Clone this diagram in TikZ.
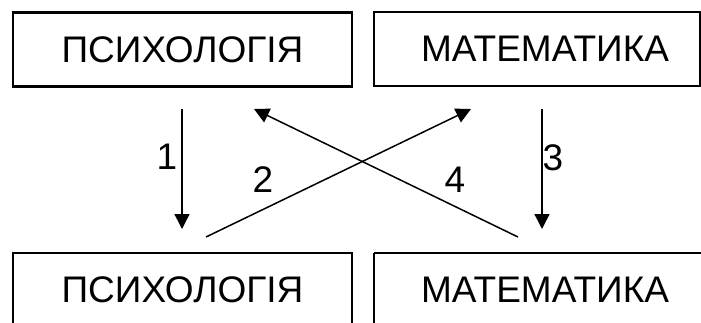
\documentclass[tikz,border=0pt]{standalone}
\usepackage{fontspec}
\setmainfont{Liberation Sans}
\usetikzlibrary{arrows.meta}
\begin{document}
\begin{tikzpicture}[x=1pt,y=-1pt,
  box/.style={draw,line width=1.4pt,minimum height=74pt,inner sep=0pt,font=\fontsize{37}{41}\selectfont},
  thickbox/.style={box,line width=2.8pt},
  txt/.style={inner sep=0pt,font=\fontsize{37}{41}\selectfont},
  arr/.style={line width=1.5pt,-{Triangle[length=15pt,width=15pt]}},
  num/.style={font=\fontsize{37}{41}\selectfont,inner sep=0pt}]
\useasboundingbox (0,0) rectangle (701,322);
\clip (0,0) rectangle (701,322);
\fill[white] (0,0) rectangle (701,322);
\node[thickbox,minimum width=339pt] (p1) at (182.5,49.5) {ПСИХОЛОГІЯ};
\node[box,minimum width=326pt] (m1) at (537,49) {\hspace*{16pt}МАТЕМАТИКА};
\node[box,minimum width=339pt] (p2) at (182.5,290) {ПСИХОЛОГІЯ};
\draw[line width=1.4pt] (374,253) -- (374,400) (374,253) -- (800,253);
\node[txt] (m2) at (545,290) {МАТЕМАТИКА};
\coordinate (a1s) at (182,109); \coordinate (a1e) at (182,229);
\coordinate (a3s) at (542,109); \coordinate (a3e) at (542,229);
\coordinate (a2s) at (206,237); \coordinate (a2e) at (471,109);
\coordinate (a4s) at (518,237); \coordinate (a4e) at (254,109);
\draw[arr] (a1s) -- (a1e);
\draw[arr] (a3s) -- (a3e);
\draw[arr] (a2s) -- (a2e);
\draw[arr] (a4s) -- (a4e);
\node[num] (n1) at (167,157) {1};
\node[num] (n2) at (263,180) {2};
\node[num] (n3) at (553,158) {3};
\node[num] (n4) at (455,180) {4};
\end{tikzpicture}
\end{document}
